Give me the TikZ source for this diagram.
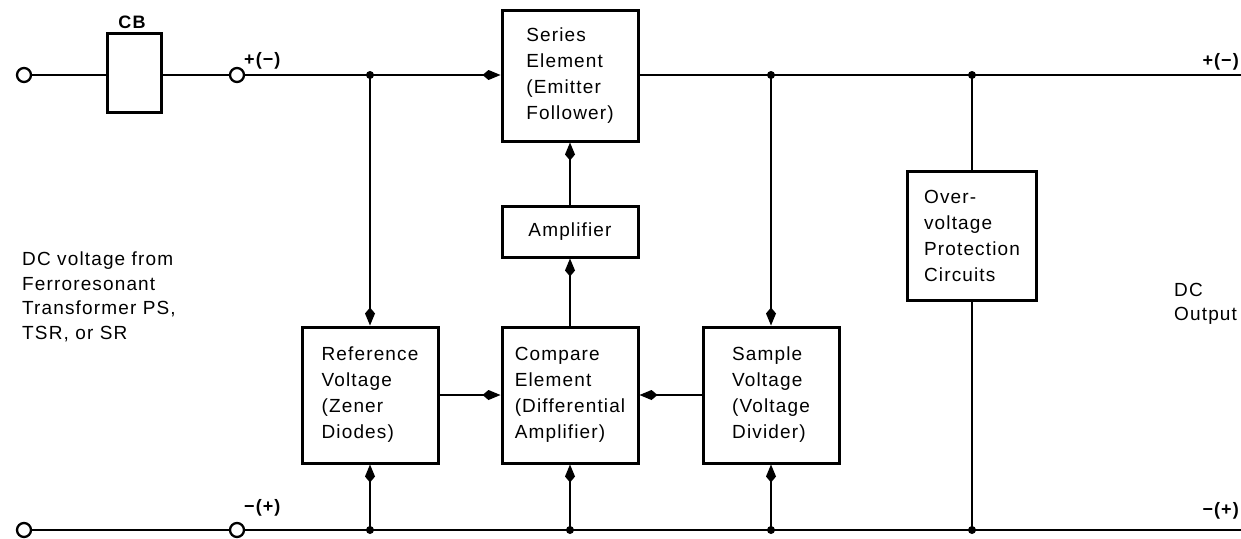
\documentclass[tikz,border=0pt]{standalone}
\usepackage{fontspec}
\setmainfont[LetterSpace=6]{Liberation Sans}
\usetikzlibrary{arrows.meta}
\begin{document}
\begin{tikzpicture}[x=1pt,y=-1pt,
  wire/.style={line width=2.3pt},
  arr/.style={wire,-{Kite[length=18pt,width=10pt,inset=6pt]}},
  blk/.style={draw,line width=3pt,fill=white,align=left,inner sep=0pt,
    font=\fontsize{19}{26}\selectfont},
  term/.style={circle,draw,line width=2.3pt,fill=white,minimum size=14pt,inner sep=0pt},
  dot/.style={circle,fill=black,minimum size=8pt,inner sep=0pt},
  lbl/.style={font=\fontsize{19}{24.5}\selectfont,align=left,inner sep=0pt},
  pol/.style={font=\bfseries\fontsize{18}{20}\selectfont,inner sep=0pt}]
\useasboundingbox (0,0) rectangle (1241,538);
\clip (0,0) rectangle (1241,538);
% boxes
\node[blk,minimum width=54pt,minimum height=79pt] (cb) at (134,72.5) {};
\node[pol] (cblbl) at (132,22) {CB};
\node[blk,minimum width=136pt,minimum height=131pt] (ser) at (570,75.5) {Series\\Element\\(Emitter\\Follower)};
\node[blk,minimum width=136pt,minimum height=51pt] (amp) at (570,231.5) {Amplifier};
\node[blk,minimum width=136pt,minimum height=136pt] (cmp) at (570,395) {Compare\\Element\\(Differential\\Amplifier)};
\node[blk,minimum width=136pt,minimum height=136pt] (ref) at (370,395) {Reference\\Voltage\\(Zener\\Diodes)};
\node[blk,minimum width=136pt,minimum height=136pt] (smp) at (771,395) {Sample\\Voltage\\(Voltage\\Divider)};
\node[blk,minimum width=129pt,minimum height=129pt] (ovp) at (972,235.5) {Over-\\voltage\\Protection\\Circuits};
% terminals and junctions
\node[term] (t1) at (24,75) {};
\node[term] (t2) at (237,75) {};
\node[term] (t3) at (24,530) {};
\node[term] (t4) at (237,530) {};
\node[dot] (j1) at (370,75) {};
\node[dot] (j2) at (771,75) {};
\node[dot] (j3) at (972,75) {};
\node[dot] (b1) at (370,530) {};
\node[dot] (b2) at (570,530) {};
\node[dot] (b3) at (771,530) {};
\node[dot] (b4) at (972,530) {};
\coordinate (e1) at (1245,75);
\coordinate (e2) at (1245,530);
% top rail
\draw[wire] (t1) -- (t1 -| cb.west);
\draw[wire] (t2 -| cb.east) -- (t2);
\draw[wire] (t2) -- (j1.center);
\draw[arr] (j1.center) -- (ser.west |- j1);
\draw[wire] (ser.east |- j2) -- (j2.center) -- (j3.center) -- (e1);
% bottom rail
\draw[wire] (t3) -- (t4);
\draw[wire] (t4) -- (b1.center) -- (b2.center) -- (b3.center) -- (b4.center) -- (e2);
% vertical connections
\draw[arr] (j1.center) -- (ref.north);
\draw[arr] (j2.center) -- (smp.north);
\draw[wire] (j3.center) -- (ovp.north);
\draw[wire] (ovp.south) -- (b4.center);
\draw[arr] (b1.center) -- (ref.south);
\draw[arr] (b2.center) -- (cmp.south);
\draw[arr] (b3.center) -- (smp.south);
\draw[arr] (cmp.north) -- (amp.south);
\draw[arr] (amp.north) -- (ser.south);
\draw[arr] (ref.east) -- (cmp.west);
\draw[arr] (smp.west) -- (cmp.east);
% labels
\node[pol,anchor=west] (p1) at (244,61) {+(−)};
\node[pol,anchor=west] (p2) at (244,508) {−(+)};
\node[pol,anchor=east] (p3) at (1239,62) {+(−)};
\node[pol,anchor=east] (p4) at (1239,511) {−(+)};
\node[lbl,anchor=north west] (src) at (22,252) {DC voltage from\\Ferroresonant\\Transformer PS,\\TSR, or SR};
\node[lbl,anchor=north west] (out) at (1174,283) {DC\\Output};
\end{tikzpicture}
\end{document}
